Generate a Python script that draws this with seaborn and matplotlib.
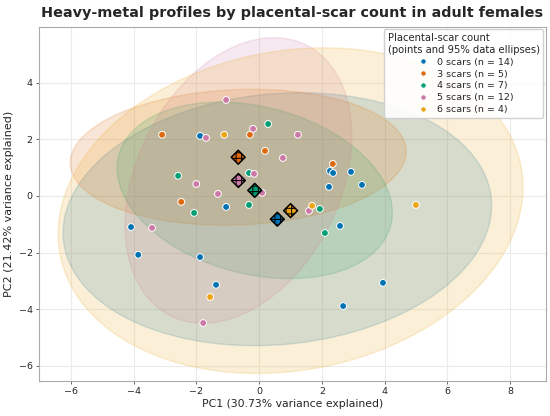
import numpy as np
import pandas as pd
import matplotlib
matplotlib.use("Agg")
import matplotlib.pyplot as plt
from matplotlib.patches import Ellipse
import seaborn as sns

# PCA scores, one pair of lists per scar group
pc1_0 = [-1.88, -4.08, -3.85, -1.88, -1.37, -1.05, 2.26, 2.36, 2.93, 3.28, 2.23, 2.58, 3.95, 2.68]
pc2_0 = [2.12, -1.10, -2.08, -2.16, -3.14, -0.39, 0.88, 0.81, 0.85, 0.39, 0.32, -1.06, -3.07, -3.89]
pc1_3 = [-3.09, -0.29, 0.19, -2.48, 2.35]
pc2_3 = [2.16, 2.16, 1.59, -0.21, 1.13]
pc1_4 = [0.29, -2.58, -0.32, -2.07, -0.32, 1.94, 2.10]
pc2_4 = [2.54, 0.71, 0.81, -0.60, -0.32, -0.46, -1.31]
pc1_5 = [-1.05, -1.69, -0.19, 0.76, -0.16, -2.00, -1.31, 0.10, -3.41, 1.24, 1.59, -1.78]
pc2_5 = [3.39, 2.05, 2.37, 1.34, 0.78, 0.42, 0.07, 0.11, -1.13, 2.16, -0.53, -4.49]
pc1_6 = [-1.11, 1.69, 5.00, -1.56]
pc2_6 = [2.16, -0.35, -0.32, -3.57]

scars = [0, 3, 4, 5, 6]
colores = ['#0072B2', '#DD6A10', '#009E73', '#CC79A7', '#EBA514']

grupos = {0: (pc1_0, pc2_0), 3: (pc1_3, pc2_3), 4: (pc1_4, pc2_4),
          5: (pc1_5, pc2_5), 6: (pc1_6, pc2_6)}

filas = []
for s in scars:
    xs, ys = grupos[s]
    etiqueta = f'{s} scars (n = {len(xs)})'
    for x, y in zip(xs, ys):
        filas.append({'PC1': x, 'PC2': y, 'grupo': etiqueta})
df = pd.DataFrame(filas)
etiquetas = list(df['grupo'].unique())

sns.set_style('whitegrid', {'xtick.bottom': True, 'ytick.left': True,
                            'axes.edgecolor': '#aaaaaa', 'grid.color': '#ebebeb'})
plt.rcParams['hatch.linewidth'] = 0.7
fig, ax = plt.subplots(figsize=(5.5, 4.16), dpi=100)
fig.subplots_adjust(left=0.0705, right=0.993, top=0.936, bottom=0.084)

chi2_95 = 5.991
for s, c in zip(scars, colores):
    xs, ys = np.array(grupos[s][0]), np.array(grupos[s][1])
    cov = np.cov(xs, ys)
    vals, vecs = np.linalg.eigh(cov)
    ang = np.degrees(np.arctan2(vecs[1, 1], vecs[0, 1]))
    w, h = 2 * np.sqrt(chi2_95 * vals[1]), 2 * np.sqrt(chi2_95 * vals[0])
    ax.add_patch(Ellipse((xs.mean(), ys.mean()), w, h, angle=ang,
                         facecolor=c, alpha=0.17, edgecolor=c, lw=1.1, zorder=1))

sns.scatterplot(data=df, x='PC1', y='PC2', hue='grupo', hue_order=etiquetas,
                palette=colores, s=24, edgecolor='white', linewidth=0.7,
                zorder=3, ax=ax)

for s, c in zip(scars, colores):
    xs, ys = np.array(grupos[s][0]), np.array(grupos[s][1])
    ax.scatter(xs.mean(), ys.mean(), marker='D', s=50, color=c,
               edgecolor='black', linewidth=1.1, hatch='+++', zorder=4)

ax.set_xlim(-7.02, 9.15)
ax.set_ylim(-6.54, 5.98)
ax.set_xticks(range(-6, 9, 2))
ax.set_yticks(range(-6, 5, 2))
ax.tick_params(labelsize=6.8, length=2.5, width=0.7, color='#666666', pad=2)
ax.set_xlabel('PC1 (30.73% variance explained)', fontsize=7.8, labelpad=2)
ax.set_ylabel('PC2 (21.42% variance explained)', fontsize=8, labelpad=3)
ax.set_title('Heavy-metal profiles by placental-scar count in adult females',
             fontsize=10.4, fontweight='bold', pad=7)
ax.legend(title='Placental-scar count\n(points and 95% data ellipses)',
          loc='upper right', fontsize=6.8, title_fontsize=7.2,
          frameon=True, framealpha=0.9, markerscale=0.8,
          borderaxespad=0.3, handletextpad=0.4, labelspacing=0.3)

plt.savefig('out.png', dpi=100)
